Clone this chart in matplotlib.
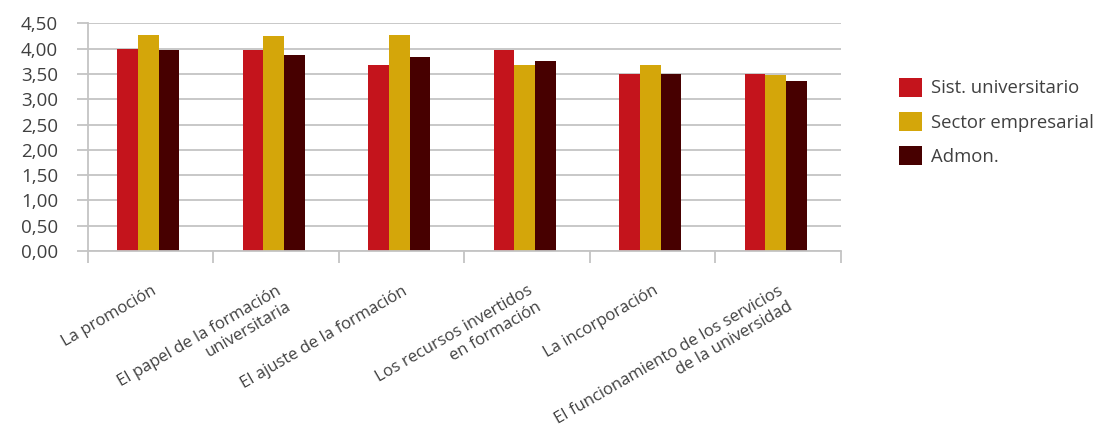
import matplotlib
matplotlib.use("Agg")
import matplotlib.pyplot as plt
import numpy as np
from matplotlib.patches import Patch

plt.rcParams['font.family'] = ['Open Sans', 'DejaVu Sans']

categories = [
    "La promoción",
    "El papel de la formación\nuniversitaria",
    "El ajuste de la formación",
    "Los recursos invertidos\nen formación",
    "La incorporación",
    "El funcionamiento de los servicios\nde la universidad",
]
series_names = ["Sist. universitario", "Sector empresarial", "Admon."]
sist_universitario = [4.00, 3.98, 3.68, 3.98, 3.49, 3.49]
sector_empresarial = [4.27, 4.24, 4.27, 3.68, 3.68, 3.47]
admon = [3.98, 3.88, 3.83, 3.75, 3.49, 3.36]
y_ticks = [0.0, 0.5, 1.0, 1.5, 2.0, 2.5, 3.0, 3.5, 4.0, 4.5]

colors = ["#C4141C", "#D4A60A", "#470000"]
text_color = "#404040"
grid_color = "#C4C4C4"

fig = plt.figure(figsize=(11, 4.24), dpi=100)
ax = fig.add_axes([0.08, 0.408, 0.6845, 0.537])

x = np.arange(len(categories))
w = 0.165
for i, (vals, c) in enumerate(zip([sist_universitario, sector_empresarial, admon], colors)):
    ax.bar(x + (i - 1) * w - 0.02, vals, width=w, color=c, linewidth=0, zorder=3)

ax.set_xlim(-0.5, len(categories) - 0.5)
ax.set_ylim(0, 4.5)
ax.set_yticks(y_ticks)
ax.set_yticklabels([f"{v:.2f}".replace(".", ",") for v in y_ticks],
                   fontsize=13.5, color=text_color)
ax.yaxis.grid(True, color=grid_color, linewidth=1.3, zorder=0)
ax.tick_params(axis='y', length=8, width=1.3, color=grid_color, pad=13.5)

for s in ["top", "right"]:
    ax.spines[s].set_visible(False)
for s in ["bottom", "left"]:
    ax.spines[s].set_color(grid_color)
    ax.spines[s].set_linewidth(1.3)
    ax.spines[s].set_zorder(4)

ax.set_xticks(np.arange(-0.5, len(categories), 1.0))
ax.set_xticklabels([])
ax.tick_params(axis='x', which='major', length=8.6, width=1.3, color=grid_color)
ax.set_xticks(x, minor=True)
ax.set_xticklabels(categories, minor=True, rotation=30, ha='right',
                   va='top', rotation_mode='anchor', multialignment='right',
                   fontsize=12, color=text_color)
ax.tick_params(axis='x', which='minor', length=0, pad=23)

handles = [Patch(facecolor=c, edgecolor='none') for c in colors]
fig.legend(handles, series_names, loc='upper left', bbox_to_anchor=(0.809, 0.839),
           frameon=False, fontsize=13.3, labelcolor=text_color, handlelength=1.23,
           handleheight=1.25, handletextpad=0.5, labelspacing=0.77, borderpad=0)

fig.savefig("out.png", dpi=100)
